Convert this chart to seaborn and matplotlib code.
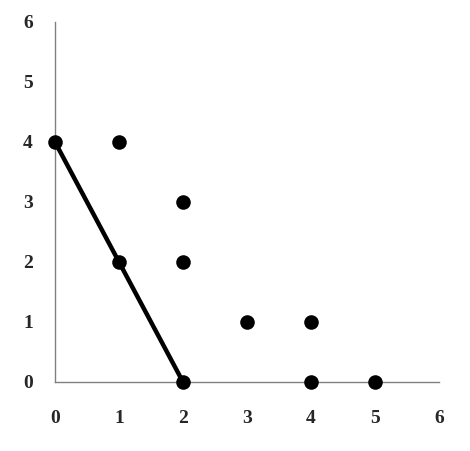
import pandas as pd
import seaborn as sns
import matplotlib.pyplot as plt

# scatter points
pts_x = [0, 1, 1, 2, 2, 2, 3, 4, 4, 5]
pts_y = [4, 4, 2, 3, 2, 0, 1, 1, 0, 0]
# line through the lower-left points
line_x = [0, 1, 2]
line_y = [4, 2, 0]
ticks = [0, 1, 2, 3, 4, 5, 6]

sns.set_style('white')
plt.rcParams['font.family'] = ['Liberation Serif', 'DejaVu Serif']

fig = plt.figure(figsize=(4.70, 4.51), dpi=100)
ax = fig.add_axes([55/470, 1 - 382/451, (439 - 55)/470, (382 - 22)/451])

df_pts = pd.DataFrame({'x': pts_x, 'y': pts_y})
df_line = pd.DataFrame({'x': line_x, 'y': line_y})

sns.lineplot(x='x', y='y', data=df_line, color='black', linewidth=3.2, ax=ax, zorder=2)
sns.scatterplot(x='x', y='y', data=df_pts, color='black', s=110, edgecolor='black',
                linewidth=0, ax=ax, zorder=3, clip_on=False)

ax.set_xlim(0, 6)
ax.set_ylim(0, 6)
ax.set_xticks(ticks)
ax.set_yticks(ticks)
ax.set_xticklabels([str(t) for t in ticks], fontsize=14, fontweight='bold')
ax.set_yticklabels([str(t) for t in ticks], fontsize=14, fontweight='bold')
ax.tick_params(axis='x', length=0, pad=20)
ax.tick_params(axis='y', length=0, pad=16)
ax.set_xlabel('')
ax.set_ylabel('')

for side in ['top', 'right']:
    ax.spines[side].set_visible(False)
for side in ['left', 'bottom']:
    ax.spines[side].set_color('#808080')
    ax.spines[side].set_linewidth(1)

plt.savefig('out.png', dpi=100)
